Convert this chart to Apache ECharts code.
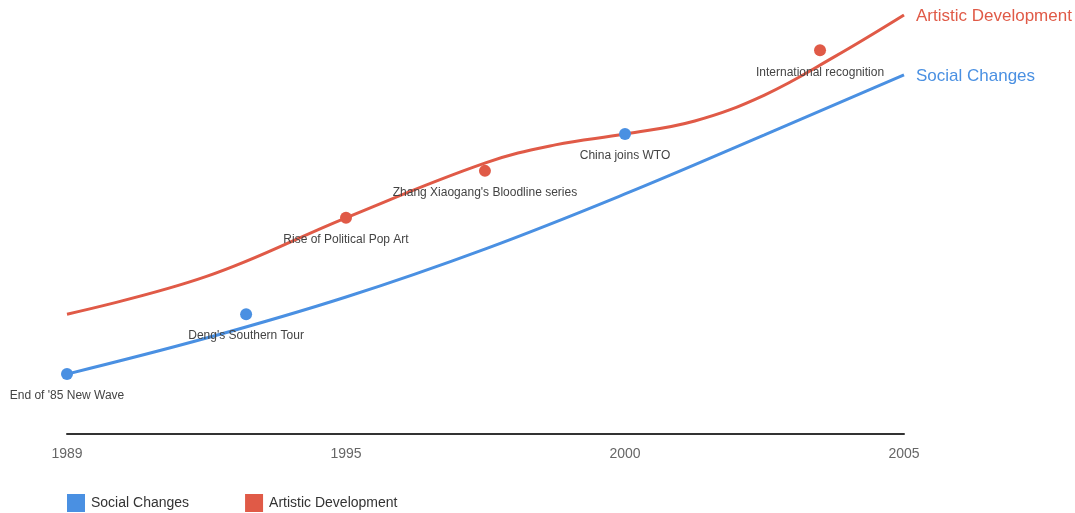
<!DOCTYPE html>
<html>
<head>
<meta charset="utf-8">
<script src="https://cdn.jsdelivr.net/npm/echarts@6/dist/echarts.min.js"></script>
<style>
  html, body { margin: 0; padding: 0; background: #fff; }
  #chart { width: 1075px; height: 513px; }
</style>
</head>
<body>
<div id="chart"></div>
<script>
// Tick labels for the four equally spaced axis positions (0..3)
const tickLabels = ['1989', '1995', '2000', '2005'];

// Trend lines (x = position along axis 0..3, y = relative level 0..100)
const socialX = [0, 0.5, 1, 1.5, 2, 2.5, 3];
const socialY = [14.3, 22.9, 32.7, 44.2, 57.3, 71.4, 85.7];
const artisticX = [0, 0.5, 1, 1.5, 1.75, 2, 2.25, 2.5, 2.75, 3];
const artisticY = [28.6, 37.6, 51.6, 64.7, 69.0, 71.6, 74.7, 80.9, 90.0, 100];

// Event markers
const socialEventNames = ["End of '85 New Wave", "Deng's Southern Tour", 'China joins WTO'];
const socialEventX = [0, 0.642, 2.0];
const socialEventY = [14.3, 28.6, 71.6];
const artEventNames = ['Rise of Political Pop Art', "Zhang Xiaogang's Bloodline series", 'International recognition'];
const artEventX = [1.0, 1.498, 2.699];
const artEventY = [51.6, 62.8, 91.6];

const BLUE = '#4a90e2';
const RED = '#e05a47';

function zip(xs, ys) { return xs.map((x, i) => [x, ys[i]]); }
function events(names, xs, ys) { return names.map((n, i) => ({ name: n, value: [xs[i], ys[i]] })); }

const chart = echarts.init(document.getElementById('chart'), null, { renderer: 'canvas' });
chart.setOption({
  animation: false,
  backgroundColor: '#fff',
  textStyle: { fontFamily: 'Liberation Sans, Arial, sans-serif' },
  grid: { left: 67, right: 171, top: 15, bottom: 79 },
  legend: {
    left: 67, bottom: 1, padding: 0,
    icon: 'rect', itemWidth: 18, itemHeight: 18, itemGap: 56,
    textStyle: { fontSize: 14, color: '#333', padding: [0, 0, 0, 1] },
    data: ['Social Changes', 'Artistic Development']
  },
  xAxis: {
    type: 'value', min: 0, max: 3, interval: 1,
    axisLine: { show: true, lineStyle: { color: '#333', width: 2 } },
    axisTick: { show: false },
    splitLine: { show: false },
    axisLabel: {
      color: '#666', fontSize: 14, margin: 13,
      formatter: v => tickLabels[Math.round(v)] || ''
    }
  },
  yAxis: { type: 'value', min: 0, max: 100, show: false, splitLine: { show: false } },
  series: [
    {
      name: 'Social Changes', type: 'line', smooth: 0.4, showSymbol: false,
      color: BLUE, lineStyle: { width: 3, color: BLUE },
      data: zip(socialX, socialY),
      endLabel: { show: true, formatter: '{a}', color: BLUE, fontSize: 17, distance: 12, offset: [0, 1] }
    },
    {
      name: 'Artistic Development', type: 'line', smooth: 0.4, showSymbol: false,
      color: RED, lineStyle: { width: 3, color: RED },
      data: zip(artisticX, artisticY),
      endLabel: { show: true, formatter: '{a}', color: RED, fontSize: 17, distance: 12, offset: [0, 1] }
    },
    {
      name: 'Social Changes', type: 'scatter', symbolSize: 12, color: BLUE,
      itemStyle: { color: BLUE, opacity: 1 },
      label: { show: true, position: 'bottom', distance: 10, formatter: '{b}', color: '#444', fontSize: 12 },
      data: events(socialEventNames, socialEventX, socialEventY), z: 5
    },
    {
      name: 'Artistic Development', type: 'scatter', symbolSize: 12, color: RED,
      itemStyle: { color: RED, opacity: 1 },
      label: { show: true, position: 'bottom', distance: 10, formatter: '{b}', color: '#444', fontSize: 12 },
      data: events(artEventNames, artEventX, artEventY), z: 5
    }
  ]
});
</script>
</body>
</html>
